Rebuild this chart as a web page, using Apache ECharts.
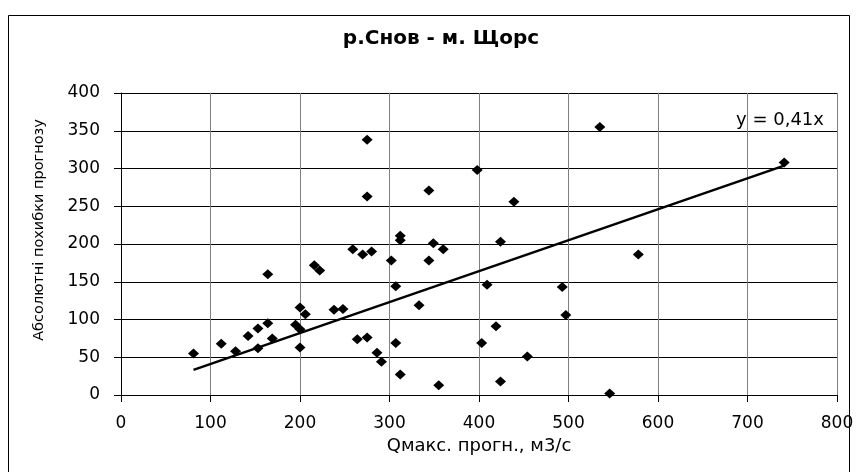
<!doctype html>
<html>
<head>
    <meta charset="utf-8">
    <title>р.Снов - м. Щорс</title>
    <script type="text/javascript" src="https://cdn.jsdelivr.net/npm/echarts@6/dist/echarts.min.js"></script>
    <style>
        html, body { margin: 0; padding: 0; background: #fff; }
        #container { width: 857px; height: 472px; }
    </style>
</head>
<body>
<div id="container"></div>
<script type="text/javascript">
    // Qмакс. прогн. (м3/с) і абсолютні похибки прогнозу
    var qMax = [81, 112, 128, 142, 153, 153, 164, 164, 169, 195,
        200, 200, 200, 206, 216, 222, 238, 248, 259, 264,
        270, 275, 275, 275, 280, 286, 291, 302, 307, 307,
        312, 312, 312, 333, 344, 344, 349, 355, 360, 398,
        403, 409, 419, 424, 424, 439, 454, 493, 497, 535,
        546, 578, 741];
    var absErr = [55, 68, 58, 78, 88, 62, 95, 160, 75, 93,
        116, 87, 63, 107, 172, 165, 113, 114, 193, 74,
        186, 338, 263, 76, 190, 56, 44, 178, 144, 69,
        211, 205, 27, 119, 271, 178, 201, 13, 193, 298,
        69, 146, 91, 203, 18, 256, 51, 143, 106, 355,
        2, 186, 308];
    var slope = 0.41;
    var eqText = 'y = 0,41x';
    var xTicks = { min: 0, max: 800, step: 100 };
    var yTicks = { min: 0, max: 400, step: 50 };

    var points = [];
    for (var i = 0; i < qMax.length; i++) {
        points.push([qMax[i], absErr[i]]);
    }
    var xLo = Math.min.apply(null, qMax);
    var xHi = Math.max.apply(null, qMax);
    var trend = [[xLo, slope * xLo], [xHi, slope * xHi]];

    var font = 'DejaVu Sans';
    var myChart = echarts.init(document.getElementById('container'));
    var option = {
        backgroundColor: '#fff',
        animation: false,
        title: {
            text: 'р.Снов - м. Щорс',
            left: 436,
            top: 24,
            textAlign: 'center',
            textStyle: { fontFamily: font, fontSize: 20, fontWeight: 'bold', color: '#000' }
        },
        grid: { left: 121, right: 20, top: 93, bottom: 77 },
        xAxis: {
            type: 'value',
            min: xTicks.min, max: xTicks.max, interval: xTicks.step,
            name: 'Qмакс. прогн., м3/с',
            nameLocation: 'middle',
            nameGap: 40,
            nameTextStyle: { fontFamily: font, fontSize: 18, color: '#000' },
            axisLine: { show: true, onZero: false, lineStyle: { color: '#000', width: 1 } },
            axisTick: { show: true, inside: false, length: 7, lineStyle: { color: '#000' } },
            axisLabel: { margin: 20, fontFamily: font, fontSize: 17, color: '#000' },
            splitLine: { show: true, lineStyle: { color: '#808080', width: 1 } }
        },
        yAxis: {
            type: 'value',
            min: yTicks.min, max: yTicks.max, interval: yTicks.step,
            axisLine: { show: true, onZero: false, lineStyle: { color: '#000', width: 1 } },
            axisTick: { show: true, inside: false, length: 7, lineStyle: { color: '#000' } },
            axisLabel: { margin: 21, fontFamily: font, fontSize: 17, color: '#000' },
            splitLine: { show: true, lineStyle: { color: '#000', width: 1 } }
        },
        series: [
            {
                name: 'похибки',
                type: 'scatter',
                symbol: 'diamond',
                symbolSize: [11, 10],
                itemStyle: { color: '#000', opacity: 1 },
                data: points,
                z: 3
            },
            {
                name: 'тренд',
                type: 'line',
                data: trend,
                symbol: 'none',
                lineStyle: { color: '#000', width: 2.5 },
                z: 2
            }
        ],
        graphic: [
            {
                type: 'rect',
                shape: { x: 8.5, y: 15.5, width: 841, height: 470 },
                style: { fill: null, stroke: '#000', lineWidth: 1 },
                silent: true
            },
            {
                type: 'text',
                x: 39, y: 230,
                rotation: Math.PI / 2,
                style: {
                    text: 'Абсолютні похибки прогнозу',
                    fontFamily: font, fontSize: 14.5, fill: '#000',
                    align: 'center', verticalAlign: 'middle'
                }
            },
            {
                type: 'text',
                x: 780, y: 120,
                style: {
                    text: eqText,
                    fontFamily: font, fontSize: 18, fill: '#000',
                    align: 'center', verticalAlign: 'middle'
                }
            }
        ]
    };
    myChart.setOption(option);
</script>
</body>
</html>
